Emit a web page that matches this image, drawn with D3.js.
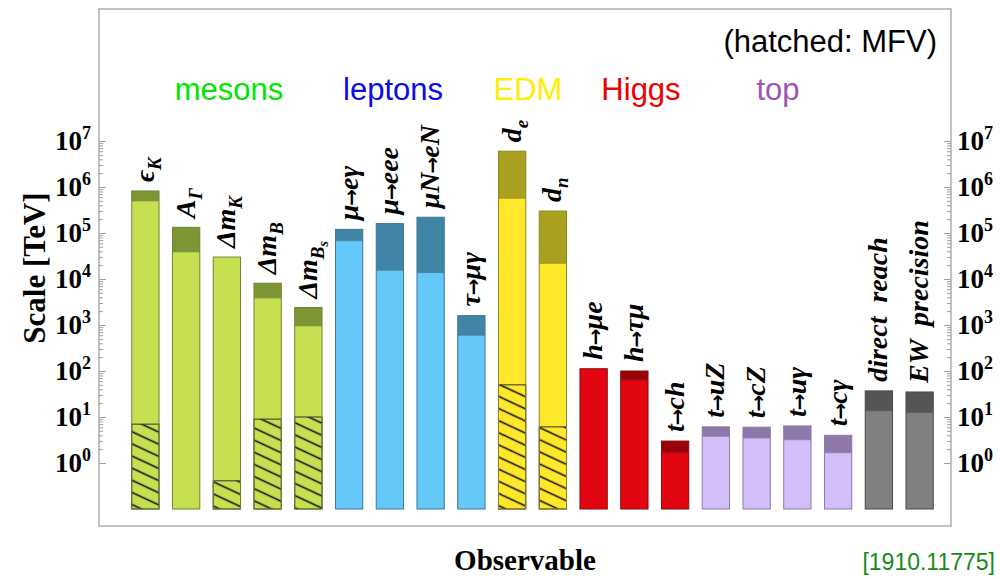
<!DOCTYPE html>
<html>
<head>
<meta charset="utf-8">
<script src="https://cdn.jsdelivr.net/npm/d3@7"></script>
<style>
  body { margin: 0; background: #fff; }
  svg { display: block; }
  .serif { font-family: "Liberation Serif", "Times New Roman", serif; }
  .sans { font-family: "Liberation Sans", Arial, sans-serif; }
</style>
</head>
<body>
<div id="chart"></div>
<script>
// data
const categories = ["eK", "AG", "dmK", "dmB", "dmBs", "mueg", "mueee", "muNeN", "taumug", "de", "dn",
  "hmue", "htaumu", "tch", "tuZ", "tcZ", "tug", "tcg", "direct", "EW"];
const groups = ["mesons", "mesons", "mesons", "mesons", "mesons", "leptons", "leptons", "leptons", "leptons",
  "EDM", "EDM", "Higgs", "Higgs", "Higgs", "top", "top", "top", "top", "other", "other"];
// upper end of each bar (dark part top) and top of the light part
const scaleTop = [8.2e5, 1.33e5, 3.0e4, 8.1e3, 2.4e3, 1.2e5, 1.6e5, 2.2e5, 1.6e3, 6.0e6, 3.0e5,
  112, 100, 3.0, 6.1, 6.0, 6.4, 4.0, 37, 35];
const scaleLow = [5.0e5, 3.9e4, 3.0e4, 3.9e3, 960, 6.8e4, 1.55e4, 1.38e4, 600, 5.7e5, 2.2e4,
  112, 64, 1.67, 3.8, 3.5, 3.2, 1.67, 13.7, 12.6];
// hatched part (MFV)
const scaleMFV = [7.0, null, 0.41, 9.0, 10, null, null, null, null, 50, 6.1,
  null, null, null, null, null, null, null, null, null];
// bar labels: [text, subscript level]
const barLabels = [
  [["ϵ", 0], ["K", 1]], [["A", 0], ["Γ", 1]], [["Δm", 0], ["K", 1]], [["Δm", 0], ["B", 1]],
  [["Δm", 0], ["B", 1], ["s", 2]],
  [["μ→eγ", 0]], [["μ→eee", 0]], [["μN→eN", 0]], [["τ→μγ", 0]],
  [["d", 0], ["e", 1]], [["d", 0], ["n", 1]],
  [["h→μe", 0]], [["h→τμ", 0]], [["t→ch", 0]],
  [["t→uZ", 0]], [["t→cZ", 0]], [["t→uγ", 0]], [["t→cγ", 0]],
  [["direct  reach", 0]], [["EW  precision", 0]]
];
const legendNames = ["mesons", "leptons", "EDM", "Higgs", "top"];
const legendX = [229, 393, 528, 641, 778];
const legendColors = ["#00e600", "#0a0aeb", "#ffee00", "#ee0000", "#9c55b0"];
const majorTicks = [1, 10, 100, 1e3, 1e4, 1e5, 1e6, 1e7];
const tickExp = ["0", "1", "2", "3", "4", "5", "6", "7"];

const colors = {
  mesons: { light: "#c6e052", dark: "#7e9535", line: "#6f8530" },
  leptons: { light: "#64c9f8", dark: "#4085a5", line: "#3d7896" },
  EDM: { light: "#ffe82a", dark: "#aaa020", line: "#8d8620" },
  Higgs: { light: "#e10612", dark: "#990008", line: "#8a0a0a" },
  top: { light: "#d4befa", dark: "#8e78aa", line: "#8c7aa6" },
  other: { light: "#808080", dark: "#555555", line: "#4a4a4a" }
};

const width = 1000, height = 579;
const frame = { left: 99, right: 951, top: 9, bottom: 526 };

const svg = d3.select("#chart").append("svg")
  .attr("width", width)
  .attr("height", height);

// hatch pattern
const defs = svg.append("defs");
defs.append("pattern")
  .attr("id", "hatch")
  .attr("patternUnits", "userSpaceOnUse")
  .attr("width", 11).attr("height", 11)
  .attr("patternTransform", "rotate(25)")
  .append("line")
  .attr("x1", 0).attr("y1", 5.5).attr("x2", 11).attr("y2", 5.5)
  .attr("stroke", "#111").attr("stroke-width", 1.6);

const y = d3.scaleLog().domain([0.1, 1e7]).range([509, 141]);
const x = d3.scaleBand().domain(categories).range([125, 940])
  .paddingInner(0.33).paddingOuter(0.165);

// minor ticks 2..9 in each decade from 1 to 1e7
let minorTicks = [];
for (let e = 0; e < 7; e++) {
  for (let k = 2; k <= 9; k++) minorTicks.push(k * Math.pow(10, e));
}

// frame
svg.append("rect")
  .attr("x", frame.left).attr("y", frame.top)
  .attr("width", frame.right - frame.left).attr("height", frame.bottom - frame.top)
  .attr("fill", "none").attr("stroke", "#a0a0a0").attr("stroke-width", 1.3);

// axes (ticks pointing inwards)
function tickAxis(axis, xpos) {
  const g = svg.append("g").attr("transform", "translate(" + xpos + ",0)").call(axis);
  g.select(".domain").remove();
  g.selectAll("line").attr("stroke", "#a0a0a0").attr("stroke-width", 1);
  return g;
}
tickAxis(d3.axisRight(y).tickValues(majorTicks).tickSize(7).tickFormat(""), frame.left);
tickAxis(d3.axisRight(y).tickValues(minorTicks).tickSize(4).tickFormat(""), frame.left);
tickAxis(d3.axisLeft(y).tickValues(majorTicks).tickSize(7).tickFormat(""), frame.right);
tickAxis(d3.axisLeft(y).tickValues(minorTicks).tickSize(4).tickFormat(""), frame.right);

// tick labels 10^n on both sides
function tickLabels(xpos, anchor) {
  const t = svg.append("g").selectAll("text")
    .data(majorTicks)
    .join("text")
    .attr("class", "serif")
    .attr("x", xpos)
    .attr("y", d => y(d) + 9)
    .attr("text-anchor", anchor)
    .attr("font-weight", "bold")
    .attr("font-size", 27)
    .attr("fill", "#000");
  t.append("tspan").text("10");
  t.append("tspan").attr("dy", -11).attr("font-size", 18).text((d, i) => tickExp[i]);
}
tickLabels(91, "end");
tickLabels(957, "start");

// bars
const bars = svg.append("g").selectAll("g")
  .data(categories)
  .join("g");

bars.append("rect")
  .attr("x", d => x(d))
  .attr("y", (d, i) => y(scaleLow[i]))
  .attr("width", x.bandwidth())
  .attr("height", (d, i) => y(0.1) - y(scaleLow[i]))
  .attr("fill", (d, i) => colors[groups[i]].light);

bars.filter((d, i) => scaleTop[i] > scaleLow[i])
  .append("rect")
  .attr("x", d => x(d))
  .attr("y", d => y(scaleTop[categories.indexOf(d)]))
  .attr("width", x.bandwidth())
  .attr("height", d => {
    const i = categories.indexOf(d);
    return y(scaleLow[i]) - y(scaleTop[i]);
  })
  .attr("fill", d => colors[groups[categories.indexOf(d)]].dark);

// divider between dark and light part
bars.filter((d, i) => scaleTop[i] > scaleLow[i])
  .append("line")
  .attr("x1", d => x(d)).attr("x2", d => x(d) + x.bandwidth())
  .attr("y1", d => y(scaleLow[categories.indexOf(d)]))
  .attr("y2", d => y(scaleLow[categories.indexOf(d)]))
  .attr("stroke", d => colors[groups[categories.indexOf(d)]].line)
  .attr("stroke-width", 0.8);

// hatched MFV part
bars.filter((d, i) => scaleMFV[i] != null)
  .append("rect")
  .attr("x", d => x(d))
  .attr("y", d => y(scaleMFV[categories.indexOf(d)]))
  .attr("width", x.bandwidth())
  .attr("height", d => y(0.1) - y(scaleMFV[categories.indexOf(d)]))
  .attr("fill", "url(#hatch)")
  .attr("stroke", "#333")
  .attr("stroke-width", 1);

// outline
bars.append("rect")
  .attr("x", d => x(d))
  .attr("y", (d, i) => y(scaleTop[i]))
  .attr("width", x.bandwidth())
  .attr("height", (d, i) => y(0.1) - y(scaleTop[i]))
  .attr("fill", "none")
  .attr("stroke", (d, i) => colors[groups[i]].line)
  .attr("stroke-width", 1);

// rotated bar labels
bars.append("text")
  .attr("class", "serif")
  .attr("transform", (d, i) => "translate(" + (x(d) + x.bandwidth() / 2) + "," + (y(scaleTop[i]) - 9) + ") rotate(-90)")
  .attr("dy", "0.3em")
  .attr("font-size", 28)
  .attr("font-weight", "bold")
  .attr("font-style", "italic")
  .style("white-space", "pre")
  .each(function(d, i) {
    const el = d3.select(this);
    let level = 0;
    barLabels[i].forEach(function(p) {
      // the arrow is set tight to its neighbours, drawn a bit heavier
      const pieces = p[0].split("→");
      pieces.forEach(function(s, k) {
        if (k > 0) {
          el.append("tspan")
            .attr("dx", -1)
            .attr("font-family", "DejaVu Sans")
            .attr("font-style", "normal")
            .attr("font-size", 20)
            .text("→");
        }
        const ts = el.append("tspan").text(s);
        if (k > 0) ts.attr("dx", -1);
        if (k === 0 && p[1] > level) {
          ts.attr("dy", p[1] === 1 ? 7 : 4)
            .attr("font-size", p[1] === 1 ? 19 : 14);
        }
      });
      level = p[1];
    });
  });

// group legend
svg.append("g").selectAll("text")
  .data(legendNames)
  .join("text")
  .attr("class", "sans")
  .attr("x", (d, i) => legendX[i])
  .attr("y", 100)
  .attr("text-anchor", "middle")
  .attr("font-size", 31)
  .attr("fill", (d, i) => legendColors[i])
  .text(d => d);

svg.append("text")
  .attr("class", "sans")
  .attr("x", 937).attr("y", 52)
  .attr("text-anchor", "end")
  .attr("font-size", 31)
  .attr("fill", "#000")
  .text("(hatched: MFV)");

// axis titles
svg.append("text")
  .attr("class", "serif")
  .attr("transform", "translate(45,268) rotate(-90)")
  .attr("text-anchor", "middle")
  .attr("font-size", 31)
  .attr("font-weight", "bold")
  .text("Scale [TeV]");

svg.append("text")
  .attr("class", "serif")
  .attr("x", 525).attr("y", 570)
  .attr("text-anchor", "middle")
  .attr("font-size", 29)
  .attr("font-weight", "bold")
  .text("Observable");

svg.append("text")
  .attr("class", "sans")
  .attr("x", 995).attr("y", 570)
  .attr("text-anchor", "end")
  .attr("font-size", 23)
  .attr("fill", "#168a16")
  .text("[1910.11775]");
</script>
</body>
</html>
